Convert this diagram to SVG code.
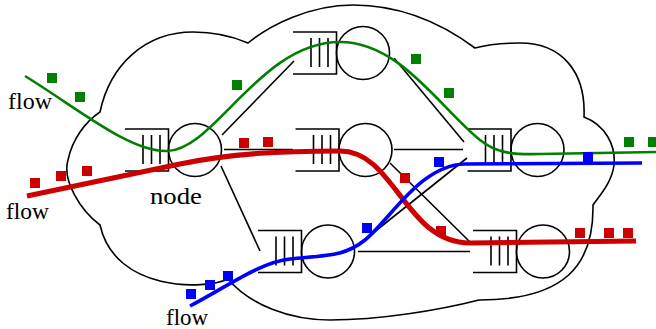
<svg xmlns="http://www.w3.org/2000/svg" xmlns:xlink="http://www.w3.org/1999/xlink" width="656" height="329" viewBox="0 0 656 329">
<style>
.ln{fill:none;stroke:#000;stroke-width:1.6;stroke-linecap:butt}
.nd{fill:none;stroke:#000;stroke-width:1.6}
.lbl{font-family:"Liberation Serif","DejaVu Serif",serif;font-size:23px;fill:#000}
.g{fill:none;stroke:#008000;stroke-width:2.6}
.r{fill:none;stroke:#cc0000;stroke-width:5}
.b{fill:none;stroke:#0000ff;stroke-width:3.6}
.sg{fill:#008000}.sr{fill:#cc0000}.sb{fill:#0000ff}
</style>
<defs>
<g id="nodeShape">
<path class="nd" d="M-70,-21 H-26.5 V21 H-70"/>
<path class="nd" d="M-52,-15 V14 M-43.5,-15 V14 M-35,-15 V14"/>
<circle class="nd" cx="0" cy="0" r="26.5"/>
</g>
<rect id="sq" x="-5" y="-5" width="10" height="10"/>
</defs>
<g id="cloud">
<path class="ln" d="M100,112 C110,65 145,32 193,32 C215,32 232,36 248,43 C270,25 310,5 353,5 C400,5 440,22 475,48 C490,44 505,43 520,43 C562,43 586,72 584,117 C605,125 616,145 614,165 C612,182 600,195 593,205 C594,265 565,300 479,300 C440,310 380,320 330,320 C290,320 250,305 228,279 C205,290 115,292 100,225 C80,210 62,180 68,160 C72,140 85,122 100,112 Z"/>
</g>
<g id="connectors">
<path class="ln" d="M222,135 L294,61"/>
<path class="ln" d="M224,149.5 L293,149.5"/>
<path class="ln" d="M221,166 L260,251"/>
<path class="ln" d="M394,58 L464,142"/>
<path class="ln" d="M394,149.5 L463,149.5"/>
<path class="ln" d="M390,163 L470,242"/>
<path class="ln" d="M358,245 L467,158"/>
<path class="ln" d="M358,251.5 L470,251.5"/>
</g>
<g id="n1" transform="translate(195,150)"><use xlink:href="#nodeShape"/></g>
<g id="n2" transform="translate(363,53)"><use xlink:href="#nodeShape"/></g>
<g id="n3" transform="translate(365.5,150)"><use xlink:href="#nodeShape"/></g>
<g id="n4" transform="translate(537.5,150)"><use xlink:href="#nodeShape"/></g>
<g id="n5" transform="translate(328,251.5)"><use xlink:href="#nodeShape"/></g>
<g id="n6" transform="translate(543,251.5)"><use xlink:href="#nodeShape"/></g>
<g id="flows">
<path class="g" d="M25,76 C80,110 130,152 167,151 C215,150 260,42 340,42 C400,42 440,108 480,140 C495,152 510,155 540,154 L656,152"/>
<path class="r" d="M27,196 L180,164 C230,153.6 280,151 340,151 C395,151 405,243 470,243 L636,241"/>
<path class="b" d="M190,306 C225,288 260,262 290,259 C330,255 345,256 365,240 C390,220 420,165 465,164 L642,163"/>
</g>
<g id="packets">
<use xlink:href="#sq" class="sg" x="52" y="78"/>
<use xlink:href="#sq" class="sg" x="80" y="97"/>
<use xlink:href="#sq" class="sg" x="237" y="85"/>
<use xlink:href="#sq" class="sg" x="416" y="59"/>
<use xlink:href="#sq" class="sg" x="449" y="93"/>
<use xlink:href="#sq" class="sg" x="629" y="142"/>
<use xlink:href="#sq" class="sg" x="653" y="142"/>
<use xlink:href="#sq" class="sr" x="35" y="183"/>
<use xlink:href="#sq" class="sr" x="61" y="176"/>
<use xlink:href="#sq" class="sr" x="87" y="171"/>
<use xlink:href="#sq" class="sr" x="244" y="143"/>
<use xlink:href="#sq" class="sr" x="268" y="142"/>
<use xlink:href="#sq" class="sr" x="405" y="178"/>
<use xlink:href="#sq" class="sr" x="441" y="231"/>
<use xlink:href="#sq" class="sr" x="580" y="233"/>
<use xlink:href="#sq" class="sr" x="609" y="233"/>
<use xlink:href="#sq" class="sr" x="628" y="233"/>
<use xlink:href="#sq" class="sb" x="191" y="294"/>
<use xlink:href="#sq" class="sb" x="210" y="285"/>
<use xlink:href="#sq" class="sb" x="228" y="276"/>
<use xlink:href="#sq" class="sb" x="367" y="228"/>
<use xlink:href="#sq" class="sb" x="439" y="162"/>
<use xlink:href="#sq" class="sb" x="588" y="157"/>
</g>
<g id="labels">
<text class="lbl" x="8" y="109" textLength="44" lengthAdjust="spacingAndGlyphs">flow</text>
<text class="lbl" x="6" y="219" textLength="43" lengthAdjust="spacingAndGlyphs">flow</text>
<text class="lbl" x="166" y="325" textLength="42" lengthAdjust="spacingAndGlyphs">flow</text>
<text class="lbl" x="150" y="204" textLength="52" lengthAdjust="spacingAndGlyphs">node</text>
</g>
</svg>
